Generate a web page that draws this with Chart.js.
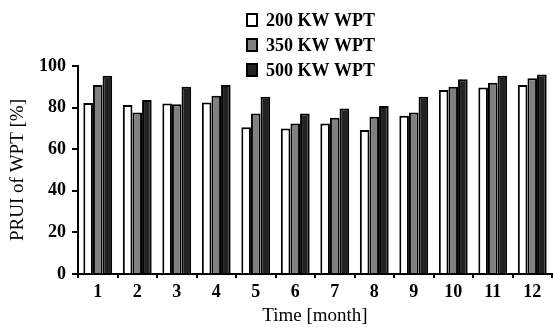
<!DOCTYPE html>
<html>
<head>
<meta charset="utf-8">
<script src="https://cdn.jsdelivr.net/npm/chart.js@4.4.1/dist/chart.umd.min.js"></script>
<style>
  html, body { margin: 0; padding: 0; background: #fff; }
  canvas { display: block; }
</style>
</head>
<body>
<canvas id="pruiChart" width="553" height="329"></canvas>
<script>
// data
const months = ['1', '2', '3', '4', '5', '6', '7', '8', '9', '10', '11', '12'];
const seriesNames = ['200 KW WPT', '350 KW WPT', '500 KW WPT'];
const wpt200 = [82.2, 81.2, 82.0, 82.5, 70.5, 70.0, 72.4, 69.2, 76.1, 88.5, 89.7, 90.9];
const wpt350 = [90.9, 77.7, 81.6, 85.7, 77.2, 72.4, 75.1, 75.6, 77.7, 90.0, 92.0, 94.1];
const wpt500 = [95.3, 83.7, 90.0, 90.9, 85.2, 77.2, 79.6, 80.8, 85.2, 93.6, 95.3, 95.9];
const yMin = 0, yMax = 100, yStep = 20;

const serif = '"Liberation Serif", "DejaVu Serif", serif';

// legend stacked one item per row, like the reference
const stackedLegend = {
    id: 'stackedLegend',
    afterDraw(chart) {
        const ctx = chart.ctx;
        ctx.save();
        ctx.font = 'bold 18px ' + serif;
        ctx.textBaseline = 'middle';
        chart.data.datasets.forEach((ds, i) => {
            const y = 20 + i * 25;
            ctx.fillStyle = ds.backgroundColor;
            ctx.fillRect(247, y - 6, 10, 12);
            ctx.lineWidth = 2;
            ctx.strokeStyle = '#000';
            ctx.strokeRect(247, y - 6, 10, 12);
            ctx.fillStyle = '#000';
            ctx.fillText(ds.label, 266, y + 1);
        });
        ctx.restore();
    }
};

const barStyle = { borderColor: '#000', borderWidth: 2, categoryPercentage: 0.73, barPercentage: 1.0 };

new Chart(document.getElementById('pruiChart').getContext('2d'), {
    type: 'bar',
    data: {
        labels: months,
        datasets: [
            { label: seriesNames[0], data: wpt200, backgroundColor: '#ffffff', ...barStyle },
            { label: seriesNames[1], data: wpt350, backgroundColor: '#808080', ...barStyle },
            { label: seriesNames[2], data: wpt500, backgroundColor: '#222222', ...barStyle }
        ]
    },
    options: {
        responsive: false,
        animation: false,
        layout: { padding: { top: 66, right: 1, bottom: 0, left: 0 } },
        plugins: { legend: { display: false }, tooltip: { enabled: false } },
        scales: {
            x: {
                afterFit(scale) { scale.height = 55; },
                grid: { display: true, drawOnChartArea: false, drawTicks: true, tickLength: 4, color: '#000', lineWidth: 2 },
                border: { display: true, color: '#000', width: 2 },
                ticks: { color: '#000', padding: 4, font: { family: serif, size: 18, weight: 'bold' } },
                title: { display: true, text: 'Time [month]', color: '#000', padding: { top: 0, bottom: 2 }, font: { family: serif, size: 19 } }
            },
            y: {
                min: yMin, max: yMax,
                afterFit(scale) { scale.width = 78; },
                grid: { display: true, drawOnChartArea: false, drawTicks: true, tickLength: 6, color: '#000', lineWidth: 2 },
                border: { display: true, color: '#000', width: 2 },
                ticks: { stepSize: yStep, color: '#000', padding: 6, font: { family: serif, size: 18, weight: 'bold' } },
                title: { display: true, text: 'PRUI of WPT [%]', color: '#000', padding: { top: 7, bottom: 0 }, font: { family: serif, size: 19 } }
            }
        }
    },
    plugins: [stackedLegend]
});
</script>
</body>
</html>
